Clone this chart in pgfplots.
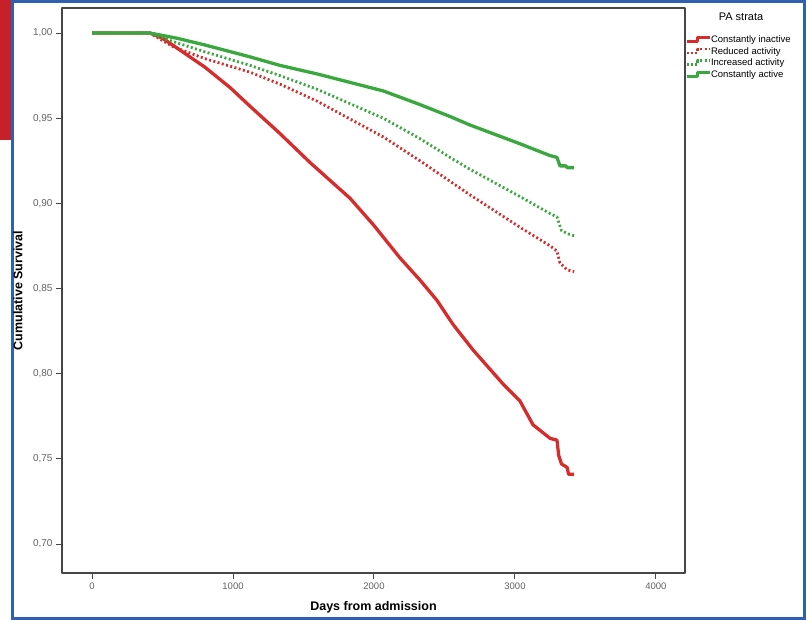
\documentclass[border=0pt]{standalone}
\usepackage{pgfplots}
\pgfplotsset{compat=1.18}
\usepackage{fontspec}
\setmainfont{Liberation Sans}
\definecolor{kmRed}{RGB}{214,44,44}
\definecolor{kmGreen}{RGB}{58,168,62}
\definecolor{frameBlue}{RGB}{48,96,178}
\definecolor{edgeRed}{RGB}{200,32,40}
\definecolor{axGray}{RGB}{70,70,70}

\begin{document}
\begin{tikzpicture}[x=1pt,y=1pt]
\path[use as bounding box] (0pt,0pt) rectangle (807pt,-620pt);
\fill[edgeRed] (0pt,0pt) rectangle (11pt,-140pt);
\draw[frameBlue, line width=3pt] (12pt,-1.5pt) rectangle (804.5pt,-618.5pt);
\begin{axis}[
    at={(62pt,-8pt)}, anchor=north west,
    width=623pt, height=565pt, scale only axis,
    xmin=-213, xmax=4206, ymin=0.683, ymax=1.0147,
    xtick={0,1000,2000,3000,4000},
    ytick={0.70,0.75,0.80,0.85,0.90,0.95,1.00},
    x tick label style={/pgf/number format/1000 sep={}, font=\fontsize{9.5}{10}\selectfont},
    y tick label style={/pgf/number format/.cd, fixed, fixed zerofill, precision=2, use comma,
        /tikz/.cd, font=\fontsize{10}{11}\selectfont},
    /pgf/number format/assume math mode=true,
    tick label style={text=axGray!85},
    tick align=outside, tick pos=left,
    major tick length=6pt,
    tick style={axGray, line width=1pt},
    axis line style={axGray, line width=1.2pt},
    xlabel={Days from admission},
    ylabel={Cumulative Survival},
    xlabel style={at={(axis description cs:0.5,-0.060)}, anchor=center, font=\bfseries\fontsize{12.5}{14}\selectfont},
    ylabel style={at={(axis description cs:-0.0706,0.5)}, anchor=center, rotate=0, font=\bfseries\fontsize{12.5}{14}\selectfont},
    legend style={at={(rel axis cs:1.0,0.952)}, anchor=north west, draw=none, fill=none,
        font=\fontsize{9.5}{11}\selectfont, inner sep=0pt, row sep=2.7pt,
        nodes={inner sep=0pt, text height=7pt, text depth=2pt},
        /tikz/every even column/.append style={column sep=0pt}},
    legend cell align=left,
    legend image code/.code={\draw[#1, line width=2.8pt] (0pt,-1.5pt) -- (11pt,-1.5pt) -- (11pt,2.5pt) -- (23pt,2.5pt);},
    line join=round,
]
% Constantly inactive
\addplot[kmRed, line width=3.3pt] coordinates {
 (0,1) (410,1) (500,0.997) (624,0.990) (800,0.980) (979,0.968) (1121,0.957)
 (1333,0.941) (1546,0.924) (1830,0.903) (2000,0.887) (2184,0.868) (2326,0.855)
 (2447,0.843) (2560,0.829) (2702,0.814) (2915,0.794) (3035,0.784) (3128,0.770)
 (3250,0.762) (3298,0.761) (3310,0.752) (3330,0.747) (3370,0.745) (3380,0.741) (3420,0.741)
};
% Reduced activity
\addplot[kmRed, line width=2.8pt, dash pattern=on 2pt off 2.4pt] coordinates {
 (0,1) (410,1) (574,0.992) (800,0.985) (1121,0.977) (1333,0.970) (1596,0.960)
 (2066,0.939) (2326,0.925) (2539,0.913) (2681,0.905) (3035,0.886) (3250,0.875)
 (3298,0.872) (3319,0.865) (3370,0.861) (3420,0.860)
};
% Increased activity
\addplot[kmGreen, line width=2.8pt, dash pattern=on 2pt off 2.4pt] coordinates {
 (0,1) (410,1) (574,0.995) (800,0.989) (1121,0.981) (1333,0.975) (1596,0.967)
 (2066,0.950) (2326,0.938) (2539,0.927) (2681,0.920) (3035,0.904) (3250,0.894)
 (3298,0.892) (3330,0.884) (3380,0.882) (3420,0.881)
};
% Constantly active
\addplot[kmGreen, line width=3.3pt] coordinates {
 (0,1) (410,1) (600,0.997) (800,0.993) (1121,0.986) (1333,0.981) (1596,0.976)
 (2066,0.966) (2326,0.958) (2539,0.951) (2681,0.946) (3035,0.935) (3250,0.928)
 (3298,0.927) (3319,0.922) (3360,0.922) (3370,0.921) (3420,0.921)
};
\legend{Constantly inactive, Reduced activity, Increased activity, Constantly active}
\end{axis}
\node[font=\fontsize{11}{13}\selectfont] at (741pt,-17pt) {PA strata};
\end{tikzpicture}
\end{document}
